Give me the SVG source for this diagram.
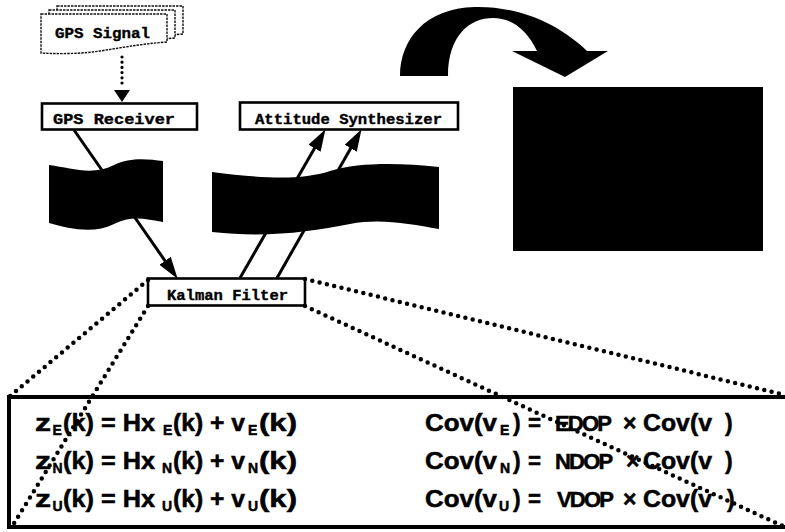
<svg xmlns="http://www.w3.org/2000/svg" width="785" height="532" viewBox="0 0 785 532">
  <style>
    .box { fill: #fff; stroke: #000; stroke-width: 2.6; }
    .card { fill: #fff; stroke: #111; stroke-width: 1.4; stroke-dasharray: 2.5 1; }
    .lbl { font-family: "Liberation Mono", "Courier New", monospace; font-weight: bold; font-size: 15.5px; fill: #000; stroke: #000; stroke-width: 0.4; }
    .flow { stroke: #000; stroke-width: 3; fill: none; }
    .dots { stroke: #000; stroke-width: 4.5; stroke-linecap: round; stroke-dasharray: 0 7.5; fill: none; }
    .eq { font-family: "Liberation Sans", Arial, sans-serif; font-weight: bold; font-size: 23px; fill: #000; stroke: #000; stroke-width: 0.5; }
    .sub { font-size: 14px; }
    .dop { font-size: 22px; letter-spacing: -1.8px; }
  </style>
  <defs>
    <marker id="head" viewBox="0 0 22 14" refX="11" refY="7" markerWidth="22" markerHeight="14" markerUnits="userSpaceOnUse" orient="auto">
      <path d="M0,0 L22,7 L0,14 Z" fill="#000"/>
    </marker>
    <path id="doc" d="M0,0 H126 V28 C99,30 79,34 59,37 C39,40 19,40 0,39 Z"/>
  </defs>
  <rect width="785" height="532" fill="#fff"/>

  <!-- GPS signal: stacked document cards -->
  <g id="gps-signal">
    <use href="#doc" class="card" x="57" y="6"/>
    <use href="#doc" class="card" x="49" y="10"/>
    <use href="#doc" class="card" x="41" y="14"/>
    <text class="lbl" x="55" y="38" textLength="95" lengthAdjust="spacingAndGlyphs">GPS Signal</text>
  </g>

  <!-- signal feed into the receiver -->
  <g id="signal-feed">
    <line x1="122" y1="57" x2="122" y2="88" stroke="#000" stroke-width="3.2" stroke-linecap="round" stroke-dasharray="0 5.2"/>
    <path d="M114,90 L130,90 L122,102 Z" fill="#000"/>
  </g>

  <g id="gps-receiver">
    <rect class="box" x="42" y="103.5" width="155" height="26"/>
    <text class="lbl" x="53" y="124" textLength="122" lengthAdjust="spacingAndGlyphs">GPS Receiver</text>
  </g>

  <g id="attitude-synthesizer">
    <rect class="box" x="240" y="102.5" width="218" height="27"/>
    <text class="lbl" x="255" y="124" textLength="187" lengthAdjust="spacingAndGlyphs">Attitude Synthesizer</text>
  </g>

  <!-- wavy black banners -->
  <g id="banner-left">
    <path d="M49,165 C72,168 92,176 114,165 C130,157 148,159 163,161 L163,222 C146,219 131,215 114,224 C94,234 70,229 49,223 Z" fill="#000"/>
  </g>
  <g id="banner-right">
    <path d="M212,172 C260,178 300,181 330,171 C360,162 400,163 439,167 L439,229 C410,224 380,218 350,224 C310,232 265,238 212,232 Z" fill="#000"/>
  </g>

  <!-- curved arrow and dark panel -->
  <g id="curved-arrow">
    <path d="M400,76 C400,40 425,8 475,7 C520,6 560,25 587,51 L608,51 L565,77 L512,51 L537,51 C527,30 512,18 493,18 C470,18 448,35 448,76 Z" fill="#000"/>
  </g>
  <g id="dark-panel">
    <rect x="513" y="87" width="250" height="164" fill="#000"/>
  </g>

  <g id="kalman-filter">
    <rect class="box" x="148" y="278.5" width="157" height="27"/>
    <text class="lbl" x="167" y="300" textLength="121" lengthAdjust="spacingAndGlyphs">Kalman Filter</text>
  </g>

  <!-- equation panel -->
  <g id="equations">
    <rect x="9" y="397" width="800" height="130" fill="none" stroke="#000" stroke-width="4"/>

    <text class="eq" y="431"><tspan x="35" textLength="16" lengthAdjust="spacingAndGlyphs">z</tspan><tspan class="sub" x="52.5" dy="4">E</tspan><tspan x="63" dy="-4" textLength="92" lengthAdjust="spacingAndGlyphs">(k) = Hx</tspan><tspan class="sub" x="163" dy="4">E</tspan><tspan x="173" dy="-4" textLength="72" lengthAdjust="spacingAndGlyphs">(k) + v</tspan><tspan class="sub" x="248" dy="4">E</tspan><tspan x="259" dy="-4" textLength="38" lengthAdjust="spacingAndGlyphs">(k)</tspan></text>
    <text class="eq" y="469"><tspan x="35" textLength="16" lengthAdjust="spacingAndGlyphs">z</tspan><tspan class="sub" x="52.5" dy="4">N</tspan><tspan x="63" dy="-4" textLength="92" lengthAdjust="spacingAndGlyphs">(k) = Hx</tspan><tspan class="sub" x="162" dy="4">N</tspan><tspan x="173" dy="-4" textLength="72" lengthAdjust="spacingAndGlyphs">(k) + v</tspan><tspan class="sub" x="248" dy="4">N</tspan><tspan x="259" dy="-4" textLength="38" lengthAdjust="spacingAndGlyphs">(k)</tspan></text>
    <text class="eq" y="507"><tspan x="35" textLength="16" lengthAdjust="spacingAndGlyphs">z</tspan><tspan class="sub" x="52.5" dy="4">U</tspan><tspan x="63" dy="-4" textLength="92" lengthAdjust="spacingAndGlyphs">(k) = Hx</tspan><tspan class="sub" x="162" dy="4">U</tspan><tspan x="173" dy="-4" textLength="72" lengthAdjust="spacingAndGlyphs">(k) + v</tspan><tspan class="sub" x="248" dy="4">U</tspan><tspan x="259" dy="-4" textLength="38" lengthAdjust="spacingAndGlyphs">(k)</tspan></text>

    <text class="eq" y="431"><tspan x="425" textLength="72" lengthAdjust="spacingAndGlyphs">Cov(v</tspan><tspan class="sub" x="500" dy="4">E</tspan><tspan x="513" dy="-4">)</tspan><tspan x="528" textLength="13" lengthAdjust="spacingAndGlyphs">=</tspan><tspan class="dop" x="555">EDOP</tspan><tspan x="623">×</tspan><tspan x="643" textLength="69" lengthAdjust="spacingAndGlyphs">Cov(v</tspan><tspan x="725">)</tspan></text>
    <text class="eq" y="469"><tspan x="425" textLength="72" lengthAdjust="spacingAndGlyphs">Cov(v</tspan><tspan class="sub" x="500" dy="4">N</tspan><tspan x="513" dy="-4">)</tspan><tspan x="528" textLength="13" lengthAdjust="spacingAndGlyphs">=</tspan><tspan class="dop" x="555">NDOP</tspan><tspan x="626">×</tspan><tspan x="643" textLength="69" lengthAdjust="spacingAndGlyphs">Cov(v</tspan><tspan x="725">)</tspan></text>
    <text class="eq" y="507"><tspan x="425" textLength="72" lengthAdjust="spacingAndGlyphs">Cov(v</tspan><tspan class="sub" x="499" dy="4">U</tspan><tspan x="513" dy="-4">)</tspan><tspan x="528" textLength="13" lengthAdjust="spacingAndGlyphs">=</tspan><tspan class="dop" x="557">VDOP</tspan><tspan x="623">×</tspan><tspan x="643" textLength="69" lengthAdjust="spacingAndGlyphs">Cov(v</tspan><tspan x="727">)</tspan></text>
  </g>

  <!-- connectors -->
  <g id="connectors">
    <line class="flow" x1="74" y1="130" x2="171.3" y2="269.8" marker-end="url(#head)"/>
    <line class="flow" x1="240" y1="278" x2="320" y2="138.7" marker-end="url(#head)"/>
    <line class="flow" x1="277" y1="278" x2="356.1" y2="138.7" marker-end="url(#head)"/>
    <line class="dots" x1="148" y1="280" x2="9" y2="397"/>
    <line class="dots" x1="148" y1="306" x2="13" y2="525"/>
    <line class="dots" x1="305" y1="279" x2="785" y2="395"/>
    <line class="dots" x1="305" y1="306" x2="785" y2="527"/>
  </g>
</svg>
